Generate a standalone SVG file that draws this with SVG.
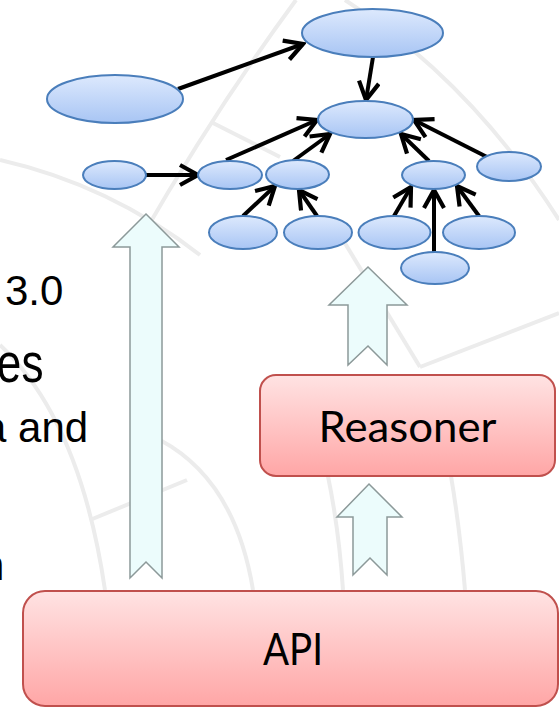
<svg xmlns="http://www.w3.org/2000/svg" width="559" height="707" viewBox="0 0 559 707">
<style>
.bg{fill:none;stroke:#ececec;stroke-width:4}
.ell{fill:url(#gBlue);stroke:#4a7ebb;stroke-width:2}
.edge{fill:none;stroke:#000;stroke-width:4;marker-end:url(#arr)}
.blk{fill:#ecfcfc;stroke:#8c9999;stroke-width:1.5}
.box{fill:url(#gRed);stroke:#c0504d;stroke-width:2}
.lbl{font-family:Lato,"Liberation Sans",sans-serif;fill:#000;text-anchor:middle}
.side{font-family:"Liberation Sans",Arial,sans-serif;font-size:42px;fill:#000}
</style>
<defs>
<linearGradient id="gBlue" x1="0" y1="0" x2="0" y2="1"><stop offset="0" stop-color="#dde9fd"/><stop offset="1" stop-color="#a8c5f4"/></linearGradient>
<linearGradient id="gRed" x1="0" y1="0" x2="0" y2="1"><stop offset="0" stop-color="#ffe3e3"/><stop offset="1" stop-color="#ffa6a6"/></linearGradient>
<marker id="arr" viewBox="0 0 24 24" refX="21" refY="12" markerWidth="24" markerHeight="24" markerUnits="userSpaceOnUse" orient="auto"><path d="M3,2 L21,12 L3,22" fill="none" stroke="#000" stroke-width="4.2"/></marker>
</defs>
<rect width="559" height="707" fill="#fff"/>
<g id="background">
<path class="bg" d="M296,0 Q215,110 140,240"/>
<path class="bg" d="M0,160 Q110,185 200,255"/>
<path class="bg" d="M345,0 Q470,80 559,220"/>
<path class="bg" d="M0,345 Q80,420 105,590"/>
<path class="bg" d="M160,440 Q235,480 253,590"/>
<path class="bg" d="M300,380 Q335,470 343,590"/>
<path class="bg" d="M430,380 Q455,470 465,590"/>
<path class="bg" d="M90,520 L187,480"/>
<path class="bg" d="M420,367 L559,313"/>
<path class="bg" d="M343,240 L420,367"/>
<path class="bg" d="M213,123 L280,157"/>
</g>
<g id="side-text">
<text class="side" x="5" y="305">3.0</text>
<text class="side" x="-3" y="0" transform="translate(0,382) scale(1.05,1.3)">es</text>
<text class="side" x="-17" y="442">a and</text>
<text class="side" x="-19" y="580">n</text>
</g>
<g id="block-arrows">
<path id="arrow-api-graph" class="blk" d="M146,214 L179,247 L162,247 L162,578 L146,562 L130,578 L130,247 L113,247 Z"/>
<path id="arrow-reasoner-graph" class="blk" d="M368,267 L407,305 L387,305 L387,365 L368,346 L348,365 L348,305 L329,305 Z"/>
<path id="arrow-api-reasoner" class="blk" d="M369,484 L402,517 L387,517 L387,575 L370,558 L353,575 L353,517 L337,517 Z"/>
</g>
<g id="edges">
<line class="edge" x1="178" y1="89" x2="303" y2="44"/>
<line class="edge" x1="373" y1="57" x2="366" y2="100"/>
<line class="edge" x1="146" y1="175" x2="198" y2="175"/>
<line class="edge" x1="226" y1="160" x2="317" y2="120"/>
<line class="edge" x1="293" y1="161" x2="330" y2="134"/>
<line class="edge" x1="243" y1="216" x2="275" y2="186"/>
<line class="edge" x1="317" y1="216" x2="299" y2="190"/>
<line class="edge" x1="429" y1="161" x2="401" y2="134"/>
<line class="edge" x1="487" y1="157" x2="414" y2="120"/>
<line class="edge" x1="394" y1="216" x2="411" y2="187"/>
<line class="edge" x1="434" y1="252" x2="434" y2="190"/>
<line class="edge" x1="479" y1="216" x2="457" y2="186"/>
</g>
<g id="n-top"><ellipse class="ell" cx="372.5" cy="33" rx="70.5" ry="24"/></g>
<g id="n-left-big"><ellipse class="ell" cx="115" cy="99" rx="68" ry="24"/></g>
<g id="n-root"><ellipse class="ell" cx="365.5" cy="119.5" rx="47.5" ry="18.5"/></g>
<g id="n-small-left"><ellipse class="ell" cx="114.5" cy="175" rx="31.5" ry="14"/></g>
<g id="n-mid1"><ellipse class="ell" cx="230" cy="175" rx="32" ry="14"/></g>
<g id="n-mid2"><ellipse class="ell" cx="297.5" cy="174.5" rx="31.5" ry="14.5"/></g>
<g id="n-mid3"><ellipse class="ell" cx="433.5" cy="175" rx="31.5" ry="14"/></g>
<g id="n-far-right"><ellipse class="ell" cx="509" cy="166.5" rx="32" ry="14.5"/></g>
<g id="n-b1"><ellipse class="ell" cx="243" cy="232.5" rx="34" ry="16.5"/></g>
<g id="n-b2"><ellipse class="ell" cx="318" cy="232.5" rx="34" ry="16.5"/></g>
<g id="n-b3"><ellipse class="ell" cx="394.5" cy="232.5" rx="36" ry="16.5"/></g>
<g id="n-b4"><ellipse class="ell" cx="479" cy="232.5" rx="36" ry="16.5"/></g>
<g id="n-b5"><ellipse class="ell" cx="435" cy="268" rx="34" ry="16"/></g>
<g id="reasoner">
<rect class="box" x="260" y="375" width="295" height="101" rx="16"/>
<text class="lbl" x="407.5" y="442" font-size="43" textLength="178" lengthAdjust="spacingAndGlyphs">Reasoner</text>
</g>
<g id="api">
<rect class="box" x="23" y="591" width="535" height="115" rx="22"/>
<text class="lbl" x="293" y="665" font-size="44" textLength="60" lengthAdjust="spacingAndGlyphs">API</text>
</g>
</svg>
